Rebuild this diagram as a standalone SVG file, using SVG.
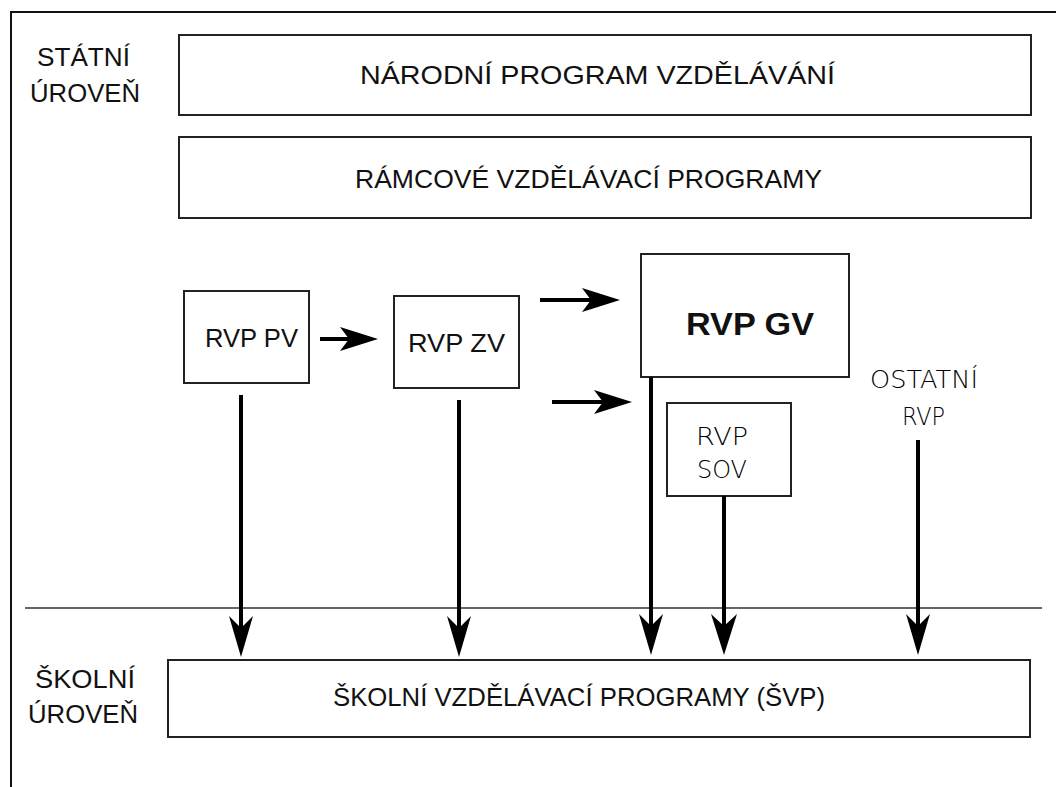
<svg xmlns="http://www.w3.org/2000/svg" width="1056" height="787" viewBox="0 0 1056 787">
<defs>
<style>
.box{fill:#fff;stroke:#222;stroke-width:2}
.t{font-family:"Liberation Sans",Arial,sans-serif;fill:#111;font-size:26px}
.thin{font-family:"DejaVu Sans","Liberation Sans",sans-serif;fill:#000;font-size:25px;font-weight:200}
.b{font-family:"Liberation Sans",Arial,sans-serif;fill:#111;font-size:31px;font-weight:bold}
.ln{stroke:#000;stroke-width:4;fill:none}
.hd{fill:#000}
</style>
</defs>
<rect width="1056" height="787" fill="#fff"/>
<g id="frame">
<path d="M11 787 V12 H1056" fill="none" stroke="#111" stroke-width="2"/>
<line x1="25" y1="608" x2="1042" y2="608" stroke="#333" stroke-width="1.5"/>
</g>
<g id="labels">
<text class="t" x="37" y="66" textLength="93" lengthAdjust="spacingAndGlyphs">STÁTNÍ</text>
<text class="t" x="30" y="102" textLength="110" lengthAdjust="spacingAndGlyphs">ÚROVEŇ</text>
<text class="t" x="35" y="688" textLength="100" lengthAdjust="spacingAndGlyphs">ŠKOLNÍ</text>
<text class="t" x="28" y="723" textLength="110" lengthAdjust="spacingAndGlyphs">ÚROVEŇ</text>
</g>
<g id="npv">
<rect class="box" x="179" y="35" width="852" height="80"/>
<text class="t" x="360" y="84" textLength="475" lengthAdjust="spacingAndGlyphs">NÁRODNÍ PROGRAM VZDĚLÁVÁNÍ</text>
</g>
<g id="rvp">
<rect class="box" x="179" y="137" width="852" height="81"/>
<text class="t" x="355" y="188" textLength="467" lengthAdjust="spacingAndGlyphs">RÁMCOVÉ VZDĚLÁVACÍ PROGRAMY</text>
</g>
<g id="rvppv">
<rect class="box" x="184" y="291" width="125" height="92"/>
<text class="t" x="205" y="347" textLength="93" lengthAdjust="spacingAndGlyphs">RVP PV</text>
</g>
<g id="rvpzv">
<rect class="box" x="394" y="296" width="125" height="92"/>
<text class="t" x="408" y="352" textLength="97" lengthAdjust="spacingAndGlyphs">RVP ZV</text>
</g>
<g id="rvpgv">
<rect class="box" x="641" y="254" width="208" height="123"/>
<text class="b" x="686" y="335" textLength="128" lengthAdjust="spacingAndGlyphs">RVP GV</text>
</g>
<g id="rvpsov">
<rect class="box" x="667" y="403" width="124" height="93"/>
<text class="thin" x="696" y="445" textLength="52" lengthAdjust="spacingAndGlyphs">RVP</text>
<text class="thin" x="697" y="478" textLength="50" lengthAdjust="spacingAndGlyphs">SOV</text>
</g>
<g id="ostatni">
<text class="thin" x="870" y="388" textLength="108" lengthAdjust="spacingAndGlyphs">OSTATNÍ</text>
<text class="thin" x="902" y="425" textLength="43" lengthAdjust="spacingAndGlyphs">RVP</text>
</g>
<g id="svp">
<rect class="box" x="168" y="660" width="862" height="77"/>
<text class="t" x="333" y="706" textLength="492" lengthAdjust="spacingAndGlyphs">ŠKOLNÍ VZDĚLÁVACÍ PROGRAMY (ŠVP)</text>
</g>
<g id="connectors">
<line class="ln" x1="320" y1="339" x2="350" y2="339"/>
<path class="hd" d="M378 339 L340 327 L349 339 L340 351 Z"/>
<line class="ln" x1="540" y1="300" x2="592" y2="300"/>
<path class="hd" d="M620 300 L582 288 L591 300 L582 312 Z"/>
<line class="ln" x1="552" y1="402" x2="604" y2="402"/>
<path class="hd" d="M632 402 L594 390 L603 402 L594 414 Z"/>
<line class="ln" x1="241" y1="395" x2="241" y2="630"/>
<path class="hd" d="M241 657 L229 616 L241 628 L253 616 Z"/>
<line class="ln" x1="459" y1="400" x2="459" y2="630"/>
<path class="hd" d="M459 657 L447 616 L459 628 L471 616 Z"/>
<line class="ln" x1="651" y1="377" x2="651" y2="630"/>
<path class="hd" d="M651 655 L639 614 L651 626 L663 614 Z"/>
<line class="ln" x1="724" y1="496" x2="724" y2="630"/>
<path class="hd" d="M724 655 L711 614 L724 626 L737 614 Z"/>
<line class="ln" x1="918" y1="440" x2="918" y2="630"/>
<path class="hd" d="M918 655 L906 614 L918 626 L930 614 Z"/>
</g>
</svg>
